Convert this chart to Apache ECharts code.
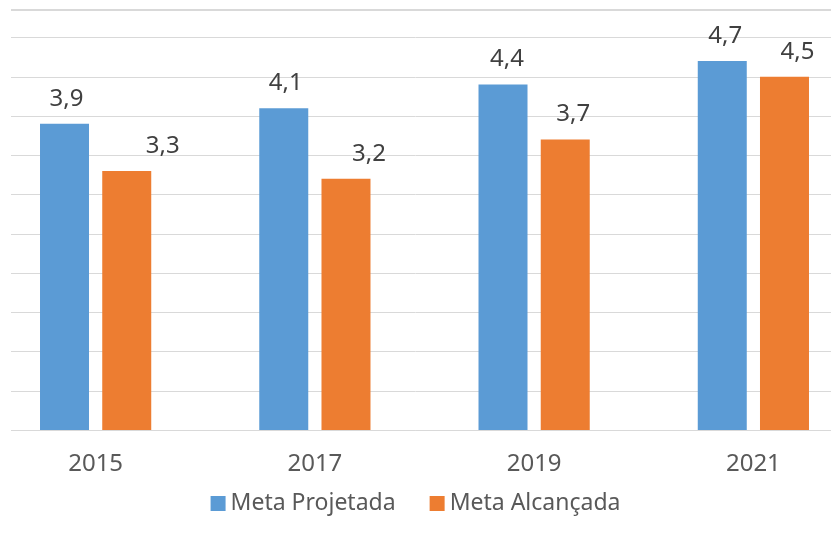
<!DOCTYPE html>
<html lang="pt">
<head>
    <meta charset="UTF-8">
    <script src="https://cdn.jsdelivr.net/npm/echarts@6/dist/echarts.min.js"></script>
    <title>Meta Projetada x Meta Alcançada</title>
    <style>
        html, body { margin: 0; padding: 0; background: #fff; }
        #chart { width: 831px; height: 536px; }
    </style>
</head>
<body>
<div id="chart"></div>
<script>
    var anos = ['2015', '2017', '2019', '2021'];
    var metaProjetada = [3.9, 4.1, 4.4, 4.7];
    var metaAlcancada = [3.3, 3.2, 3.7, 4.5];

    var myChart = echarts.init(document.getElementById('chart'));

    // rótulos deslocados à mão, como no original
    var desvioProj = [2, 2, 4, 3];
    var desvioAlc = [36, 23, 8, 13];

    function comRotulo(valores, desvio) {
        return valores.map(function (v, i) {
            return {value: v, label: {offset: [desvio[i], 0]}};
        });
    }

    var fonte = '"Noto Sans", sans-serif';
    var rotulo = {
        show: true,
        position: 'top',
        distance: 13,
        color: '#404040',
        fontSize: 24,
        fontFamily: fonte,
        formatter: function (p) { return String(p.value).replace('.', ','); }
    };

    myChart.setOption({
        animation: false,
        grid: {left: -14, right: -32, top: 37.5, bottom: 106, containLabel: false, outerBoundsMode: 'none'},
        legend: {
            data: ['Meta Projetada', 'Meta Alcançada'],
            left: 'center',
            top: 487,
            icon: 'rect',
            itemWidth: 15,
            itemHeight: 15,
            itemGap: 34,
            textStyle: {color: '#595959', fontSize: 23, fontFamily: fonte}
        },
        xAxis: {
            type: 'category',
            data: anos,
            axisTick: {show: false},
            axisLine: {lineStyle: {color: '#d9d9d9', width: 1}},
            axisLabel: {color: '#595959', fontSize: 24, fontFamily: fonte, margin: 22}
        },
        yAxis: {
            type: 'value',
            min: 0,
            max: 5,
            interval: 0.5,
            axisLabel: {show: false},
            axisLine: {show: false},
            axisTick: {show: false},
            splitLine: {lineStyle: {color: '#d9d9d9', width: 1}}
        },
        graphic: [
            {type: 'rect', shape: {x: 0, y: 0, width: 11, height: 432}, style: {fill: '#fff'}, z: 100},
            {type: 'line', shape: {x1: 11, y1: 10, x2: 831, y2: 10}, style: {stroke: '#d9d9d9', lineWidth: 2}, z: 100}
        ],
        series: [
            {
                name: 'Meta Projetada',
                type: 'bar',
                barWidth: 49,
                barGap: '27%',
                itemStyle: {color: '#5b9bd5'},
                label: rotulo,
                data: comRotulo(metaProjetada, desvioProj)
            },
            {
                name: 'Meta Alcançada',
                type: 'bar',
                barWidth: 49,
                itemStyle: {color: '#ed7d31'},
                label: rotulo,
                data: comRotulo(metaAlcancada, desvioAlc)
            }
        ]
    });
</script>
</body>
</html>
